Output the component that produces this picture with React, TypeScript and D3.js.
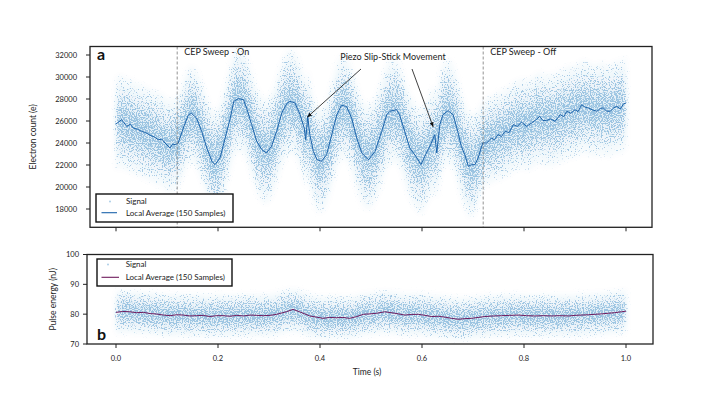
import React from "react";
import * as d3 from "d3";

// local average, panel a (electron count)
const timeA = [
  0, 0.011, 0.021, 0.028, 0.034, 0.042, 0.05, 0.058, 0.067, 0.075, 0.083, 0.09, 0.096, 0.106, 0.111, 0.116, 0.122,
  0.132, 0.142, 0.148, 0.158, 0.168, 0.178, 0.188, 0.194, 0.204, 0.214, 0.224, 0.231, 0.24, 0.25, 0.256, 0.266,
  0.276, 0.286, 0.295, 0.305, 0.315, 0.325, 0.335, 0.341, 0.351, 0.361, 0.369, 0.372, 0.376, 0.38, 0.387, 0.394,
  0.403, 0.413, 0.423, 0.433, 0.442, 0.452, 0.462, 0.472, 0.482, 0.495, 0.508, 0.521, 0.531, 0.537, 0.55, 0.556,
  0.566, 0.576, 0.588, 0.598, 0.607, 0.617, 0.625, 0.629, 0.635, 0.641, 0.651, 0.661, 0.67, 0.677, 0.684, 0.691,
  0.697, 0.704, 0.71, 0.719, 0.727, 0.736, 0.742, 0.749, 0.756, 0.763, 0.771, 0.779, 0.787, 0.795, 0.805, 0.815,
  0.823, 0.831, 0.837, 0.844, 0.852, 0.861, 0.871, 0.878, 0.884, 0.892, 0.9, 0.906, 0.913, 0.92, 0.926, 0.935,
  0.943, 0.95, 0.956, 0.962, 0.969, 0.976, 0.982, 0.989, 0.995, 1.0,
];
const avgA = [
  25730, 26120, 25515, 25700, 25360, 25250, 25060, 24950, 24700, 24550, 24300, 24350, 24000, 23550, 23900, 23850, 24000,
  25360, 26570, 26700, 26270, 25060, 23550, 22340, 22030, 22640, 24450, 26270, 27790, 28030, 27940, 27180, 25670,
  24150, 23390, 23090, 23700, 25060, 26730, 27600, 27790, 27640, 26570, 25360, 24300, 26420, 24760, 23240, 22480,
  22340, 22940, 24760, 26570, 27420, 27330, 26270, 24450, 23090, 22480, 23240, 25060, 26570, 26880, 27030, 26570,
  25060, 23550, 22790, 22030, 22940, 23850, 24760, 23090, 25670, 26570, 26940, 26570, 25060, 23700, 22940, 21880,
  22030, 22030, 22640, 24000, 24000, 24450, 24300, 24760, 24600, 25060, 24950, 25670, 25500, 25910, 25510, 25820,
  26100, 26420, 26050, 26030, 26200, 25970, 26570, 26400, 26880, 26700, 27030, 26850, 27480, 27250, 27180, 27000,
  26880, 27150, 27180, 26900, 26880, 27200, 27330, 27100, 27550, 27640,
];
// approximate spread of the raw signal cloud (1 sigma)
const spreadTimeA = [0, 0.12, 0.2, 0.4, 0.6, 0.7, 0.72, 0.85, 1.0];
const spreadA = [1500, 1500, 1700, 1700, 1700, 1700, 1400, 1500, 1500];

// panel b (pulse energy)
const timeB = [
  0, 0.013, 0.027, 0.04, 0.054, 0.067, 0.08, 0.093, 0.106, 0.119, 0.132, 0.145, 0.158, 0.171, 0.184, 0.197, 0.21,
  0.223, 0.237, 0.25, 0.263, 0.276, 0.289, 0.302, 0.315, 0.334, 0.347, 0.36, 0.38, 0.393, 0.406, 0.419, 0.432, 0.445,
  0.458, 0.472, 0.485, 0.498, 0.511, 0.527, 0.547, 0.566, 0.58, 0.593, 0.606, 0.619, 0.632, 0.645, 0.658, 0.671,
  0.684, 0.697, 0.71, 0.723, 0.74, 0.756, 0.772, 0.789, 0.805, 0.821, 0.838, 0.854, 0.87, 0.887, 0.9, 0.913, 0.926,
  0.939, 0.952, 0.965, 0.978, 0.991, 1.0,
];
const avgB = [
  80.6, 80.9, 80.8, 80.5, 80.6, 80.2, 80.05, 79.7, 79.5, 79.8, 79.7, 79.4, 79.5, 79.6, 79.2, 79.5, 79.5,
  79.3, 79.6, 79.4, 79.7, 79.6, 79.5, 79.6, 79.95, 80.8, 81.6, 80.8, 79.4, 79.0, 78.6, 78.9, 78.8, 78.9,
  78.6, 79.2, 79.95, 80.1, 80.3, 80.8, 80.3, 79.7, 79.9, 79.95, 79.6, 79.2, 79.3, 79.0, 78.6, 78.3,
  78.5, 78.6, 78.9, 79.2, 79.4, 79.5, 79.6, 79.7, 79.5, 79.4, 79.5, 79.4, 79.5, 79.4, 79.6, 79.7, 79.8,
  79.95, 80.1, 80.3, 80.5, 80.8, 81.0,
];
const spreadTimeB = [0, 1.0];
const spreadB = [2.6, 2.6];

const yTicksA = [18000, 20000, 22000, 24000, 26000, 28000, 30000, 32000];
const yTicksB = [70, 80, 90, 100];
const xTicks = [0, 0.2, 0.4, 0.6, 0.8, 1.0];
const cepLines = [0.12, 0.72];
const cepLabels = ["CEP Sweep - On", "CEP Sweep - Off"];
const slipPoints = [
  { t: 0.375, v: 26350 },
  { t: 0.622, v: 25450 },
];

const FONT = "Lato, 'Open Sans', sans-serif";
const cloudLayers = [2.8, 2.2, 1.7, 1.25, 0.8, 0.4];

type Pt = { t: number; v: number };

function Cloud({ pts, sd, x, y }: { pts: Pt[]; sd: (t: number) => number; x: any; y: any }) {
  return (
    <g filter="url(#speckle)">
      {cloudLayers.map((k, i) => {
        const area = d3
          .area<Pt>()
          .x((d) => x(d.t))
          .y0((d) => y(d.v - k * sd(d.t)))
          .y1((d) => y(d.v + k * sd(d.t)))
          .curve(d3.curveBasis);
        return <path key={i} d={area(pts) || ""} fill="#000" fillOpacity={0.19} />;
      })}
    </g>
  );
}

export default function App() {
  const x = d3.scaleLinear().domain([0, 1]).range([116, 626]);
  const yA = d3.scaleLinear().domain([18000, 32000]).range([209, 55]);
  const yB = d3.scaleLinear().domain([70, 100]).range([344, 254.5]);

  const frameA = { left: 90, right: 652, top: 46.5, bottom: 227.3 };
  const frameB = { left: 87, right: 653, top: 254.5, bottom: 344 };

  const ptsA: Pt[] = timeA.map((t, i) => ({ t, v: avgA[i] }));
  const ptsB: Pt[] = timeB.map((t, i) => ({ t, v: avgB[i] }));
  const sdA = d3.scaleLinear().domain(spreadTimeA).range(spreadA);
  const sdB = d3.scaleLinear().domain(spreadTimeB).range(spreadB);

  const lineA = d3.line<Pt>().x((d) => x(d.t)).y((d) => yA(d.v));
  const lineB = d3.line<Pt>().x((d) => x(d.t)).y((d) => yB(d.v));

  const lineAColor = "#1a62aa";
  const lineBColor = "#6e1a5c";
  const dotColor = "#2f83c0";

  return (
    <svg width={725} height={394} style={{ position: "absolute", left: 0, top: 0, background: "#fff" }} fontFamily={FONT}>
      <defs>
        <clipPath id="clipA">
          <rect x={frameA.left} y={frameA.top} width={frameA.right - frameA.left} height={frameA.bottom - frameA.top} />
        </clipPath>
        <clipPath id="clipB">
          <rect x={frameB.left} y={frameB.top} width={frameB.right - frameB.left} height={frameB.bottom - frameB.top} />
        </clipPath>
        {/* dither the density bands into a speckled, scatter-like cloud */}
        <filter id="speckle" filterUnits="userSpaceOnUse" x={0} y={0} width={725} height={394}>
          <feGaussianBlur in="SourceAlpha" stdDeviation="2.5" result="dens" />
          <feTurbulence type="fractalNoise" baseFrequency="0.85" numOctaves="2" seed="7" result="noise" />
          <feColorMatrix in="noise" type="matrix" values="0 0 0 0 0  0 0 0 0 0  0 0 0 0 0  0 0 0 2.2 -0.6" result="noiseA" />
          <feComposite in="dens" in2="noiseA" operator="arithmetic" k1="0" k2="5" k3="-5" k4="0" result="dots" />
          <feFlood floodColor={dotColor} floodOpacity="0.4" result="col" />
          <feComposite in="col" in2="dots" operator="in" result="speck" />
          <feFlood floodColor={dotColor} floodOpacity="0.2" result="col2" />
          <feComposite in="col2" in2="dens" operator="in" result="haze" />
          <feMerge>
            <feMergeNode in="haze" />
            <feMergeNode in="speck" />
          </feMerge>
        </filter>
        <marker id="arrow" viewBox="0 0 10 10" refX="10" refY="5" markerWidth="6" markerHeight="6" orient="auto">
          <path d="M0,1 L10,5 L0,9 z" fill="#111" />
        </marker>
      </defs>

      {/* panel a */}
      <g clipPath="url(#clipA)">
        <Cloud pts={ptsA} sd={sdA} x={x} y={yA} />
        <path d={lineA(ptsA) || ""} fill="none" stroke={lineAColor} strokeWidth={1} />
      </g>
      {cepLines.map((t, i) => (
        <g key={i}>
          <line x1={x(t)} x2={x(t)} y1={frameA.top} y2={frameA.bottom} stroke="#777" strokeWidth={0.8} strokeDasharray="3,2" />
          <text x={x(t) + 7} y={frameA.top + 8} fontSize={9} fill="#222">
            {cepLabels[i]}
          </text>
        </g>
      ))}
      <text x={393} y={60} fontSize={9} textAnchor="middle" fill="#222">
        Piezo Slip-Stick Movement
      </text>
      <line x1={361} y1={69} x2={x(slipPoints[0].t)} y2={yA(slipPoints[0].v)} stroke="#111" strokeWidth={0.8} markerEnd="url(#arrow)" />
      <line x1={412} y1={69} x2={x(slipPoints[1].t)} y2={yA(slipPoints[1].v)} stroke="#111" strokeWidth={0.8} markerEnd="url(#arrow)" />
      <rect x={frameA.left} y={frameA.top} width={frameA.right - frameA.left} height={frameA.bottom - frameA.top} fill="none" stroke="#222" strokeWidth={1.3} />
      {yTicksA.map((v) => (
        <g key={v}>
          <line x1={frameA.left - 4} x2={frameA.left} y1={yA(v)} y2={yA(v)} stroke="#222" strokeWidth={1} />
          <text x={frameA.left - 13} y={yA(v)} dy="0.35em" fontSize={7.5} textAnchor="end" fill="#222">
            {v}
          </text>
        </g>
      ))}
      {xTicks.map((t) => (
        <line key={t} x1={x(t)} x2={x(t)} y1={frameA.bottom} y2={frameA.bottom + 4} stroke="#222" strokeWidth={1} />
      ))}
      <text x={97} y={60} fontSize={16} fontWeight="bold" fill="#111">
        a
      </text>
      <text transform={`translate(36,${(frameA.top + frameA.bottom) / 2}) rotate(-90)`} fontSize={8.5} textAnchor="middle" fill="#222">
        Electron count (e)
      </text>
      {/* legend a */}
      <rect x={96} y={194} width={137} height={28} fill="#fff" stroke="#111" strokeWidth={1.4} />
      <circle cx={110} cy={201.5} r={1} fill={dotColor} fillOpacity={0.4} />
      <text x={126} y={201.5} dy="0.35em" fontSize={8} fill="#222">
        Signal
      </text>
      <line x1={101.5} x2={117} y1={212.7} y2={212.7} stroke={lineAColor} strokeWidth={1.1} />
      <text x={126} y={212.7} dy="0.35em" fontSize={8} fill="#222">
        Local Average (150 Samples)
      </text>

      {/* panel b */}
      <g clipPath="url(#clipB)">
        <Cloud pts={ptsB} sd={sdB} x={x} y={yB} />
        <path d={lineB(ptsB) || ""} fill="none" stroke={lineBColor} strokeWidth={1} />
      </g>
      <rect x={frameB.left} y={frameB.top} width={frameB.right - frameB.left} height={frameB.bottom - frameB.top} fill="none" stroke="#222" strokeWidth={1.3} />
      {yTicksB.map((v) => (
        <g key={v}>
          <line x1={frameB.left - 4} x2={frameB.left} y1={yB(v)} y2={yB(v)} stroke="#222" strokeWidth={1} />
          <text x={frameB.left - 8} y={yB(v)} dy="0.35em" fontSize={7.5} textAnchor="end" fill="#222">
            {v}
          </text>
        </g>
      ))}
      {xTicks.map((t) => (
        <g key={t}>
          <line x1={x(t)} x2={x(t)} y1={frameB.bottom} y2={frameB.bottom + 4} stroke="#222" strokeWidth={1} />
          <text x={x(t)} y={358} dy="0.35em" fontSize={7.5} textAnchor="middle" fill="#222">
            {t.toFixed(1)}
          </text>
        </g>
      ))}
      <text x={367} y={372} dy="0.35em" fontSize={8.5} textAnchor="middle" fill="#222">
        Time (s)
      </text>
      <text x={97} y={340} fontSize={16} fontWeight="bold" fill="#111">
        b
      </text>
      <text transform={`translate(56,${(frameB.top + frameB.bottom) / 2}) rotate(-90)`} fontSize={8.5} textAnchor="middle" fill="#222">
        Pulse energy (nJ)
      </text>
      {/* legend b */}
      <rect x={97} y={259} width={135} height={27} fill="#fff" stroke="#111" strokeWidth={1.4} />
      <circle cx={108} cy={264.5} r={1} fill={dotColor} fillOpacity={0.4} />
      <text x={125.7} y={264.5} dy="0.35em" fontSize={8} fill="#222">
        Signal
      </text>
      <line x1={101.5} x2={119} y1={277.3} y2={277.3} stroke={lineBColor} strokeWidth={1.1} />
      <text x={125.7} y={277.3} dy="0.35em" fontSize={8} fill="#222">
        Local Average (150 Samples)
      </text>
    </svg>
  );
}
